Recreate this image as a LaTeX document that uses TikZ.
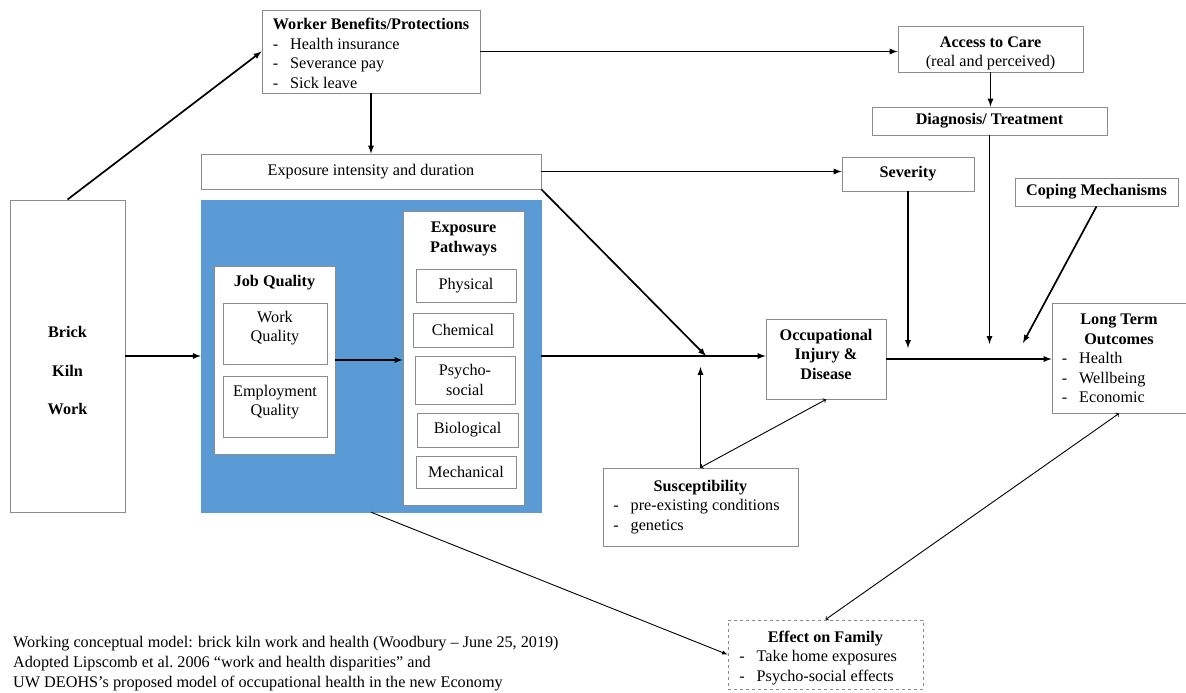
\documentclass[tikz,border=0pt]{standalone}
\usepackage{fontspec}
\setmainfont{Liberation Serif}
\usepackage{tikz}
\definecolor{kilnblue}{RGB}{91,155,213}
\definecolor{boxgray}{RGB}{140,140,140}
% text block moved down inside its box
\newcommand{\shifted}[2]{\raisebox{-#1}[0pt][0pt]{#2}}

\begin{document}
\begin{tikzpicture}[x=1pt, y=-1pt,
    font=\fontsize{16.2}{19.5}\selectfont,
    box/.style={draw=boxgray, line width=0.9pt, fill=white, inner sep=0pt},
    arr/.style={-latex, line width=1.7pt},
    thinarr/.style={line width=0.9pt}]
    \useasboundingbox (0,0) rectangle (1186,693);
    % left column
    \node[box, minimum width=115pt, minimum height=312pt,
          label={[align=center, yshift=-14.5pt]center:\textbf{Brick}\\[19pt]\textbf{Kiln}\\[19pt]\textbf{Work}}]
          (brick) at (67.5,356) {};
    \node[box, minimum width=218pt, minimum height=83pt] (worker) at (371,51.5)
        {\shifted{8pt}{\begin{tabular}{@{}l@{\hspace{12pt}}l@{}}
         \multicolumn{2}{@{}c@{}}{\textbf{Worker Benefits/Protections}}\\
         - & Health insurance\\
         - & Severance pay\\
         - & Sick leave
         \end{tabular}}};
    \node[box, minimum width=340pt, minimum height=35pt] (expo) at (371,171.5) {Exposure intensity and duration};
    % blue block
    \node[draw=kilnblue, fill=kilnblue, inner sep=0pt, minimum width=340pt, minimum height=312pt] (blue) at (371,356) {};
    \node[box, minimum width=121pt, minimum height=188pt,
          label={[anchor=north, inner sep=0pt, yshift=-10pt]north:\textbf{Job Quality}}] (job) at (274.5,360) {};
    \node[box, minimum width=104pt, minimum height=61pt] (workq) at (275,333.5)
        {\shifted{-1pt}{\begin{tabular}{@{}c@{}}Work\\Quality\end{tabular}}};
    \node[box, minimum width=104pt, minimum height=61pt] (empq) at (275,406.5)
        {\shifted{0pt}{\begin{tabular}{@{}c@{}}Employment\\Quality\end{tabular}}};
    \node[box, minimum width=121pt, minimum height=294pt,
          label={[anchor=north, align=center, inner sep=0pt, yshift=-11.5pt]north:\textbf{Exposure}\\\textbf{Pathways}}] (pathways) at (463.5,358) {};
    \node[box, minimum width=100pt, minimum height=33pt] (physical) at (466,285.5) {Physical};
    \node[box, minimum width=100pt, minimum height=34pt] (chemical) at (463,330) {Chemical};
    \node[box, align=center, minimum width=100pt, minimum height=48pt] (psycho) at (465,380) {Psycho-\\social};
    \node[box, minimum width=101pt, minimum height=34pt] (biological) at (467.5,430) {Biological};
    \node[box, minimum width=100pt, minimum height=32pt] (mechanical) at (466,472) {Mechanical};
    % right side
    \node[box, minimum width=185pt, minimum height=46pt] (access) at (990.5,49)
        {\shifted{8.5pt}{\begin{tabular}{@{}c@{}}\textbf{Access to Care}\\(real and perceived)\end{tabular}}};
    \node[box, minimum width=235pt, minimum height=28pt] (diag) at (989.5,121) {\textbf{Diagnosis/ Treatment}};
    \node[box, minimum width=132pt, minimum height=34pt] (severity) at (908,174) {\textbf{Severity}};
    \node[box, minimum width=163pt, minimum height=28pt] (coping) at (1096.5,192) {\textbf{Coping Mechanisms}};
    \node[box, minimum width=120pt, minimum height=80pt] (occ) at (826,359)
        {\shifted{1pt}{\begin{tabular}{@{}c@{}}\textbf{Occupational}\\\textbf{Injury \&}\\\textbf{Disease}\end{tabular}}};
    \node[box, minimum width=134pt, minimum height=110pt] (longterm) at (1119,358)
        {\shifted{6pt}{\begin{tabular}{@{}l@{\hspace{12pt}}p{97pt}@{}}
         \multicolumn{2}{@{}c@{}}{\textbf{Long Term}}\\
         \multicolumn{2}{@{}c@{}}{\textbf{Outcomes}}\\
         - & Health\\
         - & Wellbeing\\
         - & Economic
         \end{tabular}}};
    \node[box, minimum width=195pt, minimum height=78pt] (sus) at (700.5,507)
        {\begin{tabular}{@{}l@{\hspace{12pt}}p{157pt}@{}}
         \multicolumn{2}{@{}c@{}}{\textbf{Susceptibility}}\\
         - & pre-existing conditions\\
         - & genetics
         \end{tabular}};
    \node[box, dashed, minimum width=195pt, minimum height=69pt] (effect) at (825.5,654.5)
        {\shifted{7.5pt}{\begin{tabular}{@{}l@{\hspace{12pt}}p{155pt}@{}}
         \multicolumn{2}{@{}c@{}}{\textbf{Effect on Family}}\\
         - & Take home exposures\\
         - & Psycho-social effects
         \end{tabular}}};
    \node[anchor=north west, align=left, inner sep=0pt, font=\fontsize{16.2}{20}\selectfont] (caption) at (13,636)
        {Working conceptual model: brick kiln work and health (Woodbury – June 25, 2019)\\
         Adopted Lipscomb et al.\ 2006 “work and health disparities” and\\
         UW DEOHS’s proposed model of occupational health in the new Economy};
    % connectors
    \coordinate (merge) at (706,356);
    \coordinate (susin) at (700.5,367);
    \coordinate (sevin) at (908,348);
    \coordinate (diagin) at (989.5,344);
    \coordinate (copein) at (1023,343);
    \draw[arr] (brick.north) -- (worker.west);
    \draw[arr] (worker.east) -- (worker.east -| access.west);
    \draw[arr] (worker.south) -- (expo.north);
    \draw[arr] (access.south) -- (access.south |- diag.north);
    \draw[arr] (expo.east) -- (expo.east -| severity.west);
    \draw[arr] (expo.south east) -- (merge);
    \draw[arr] (brick.east) -- (blue.west);
    \draw[arr] (job.east) -- (job.east -| pathways.west);
    \draw[arr] (blue.east) -- (blue.east -| occ.west);
    \draw[arr] (sus.north) -- (susin);
    \draw[thinarr, <->] (occ.south) -- (sus.north);
    \draw[arr] (occ.east) -- (occ.east -| longterm.west);
    \draw[arr] (severity.south) -- (sevin);
    \draw[arr] (diag.south) -- (diagin);
    \draw[arr] (coping.south) -- (copein);
    \draw[thinarr, -latex] (blue.south) -- (effect.west);
    \draw[thinarr, <->] (longterm.south) -- (effect.north);
\end{tikzpicture}
\end{document}
